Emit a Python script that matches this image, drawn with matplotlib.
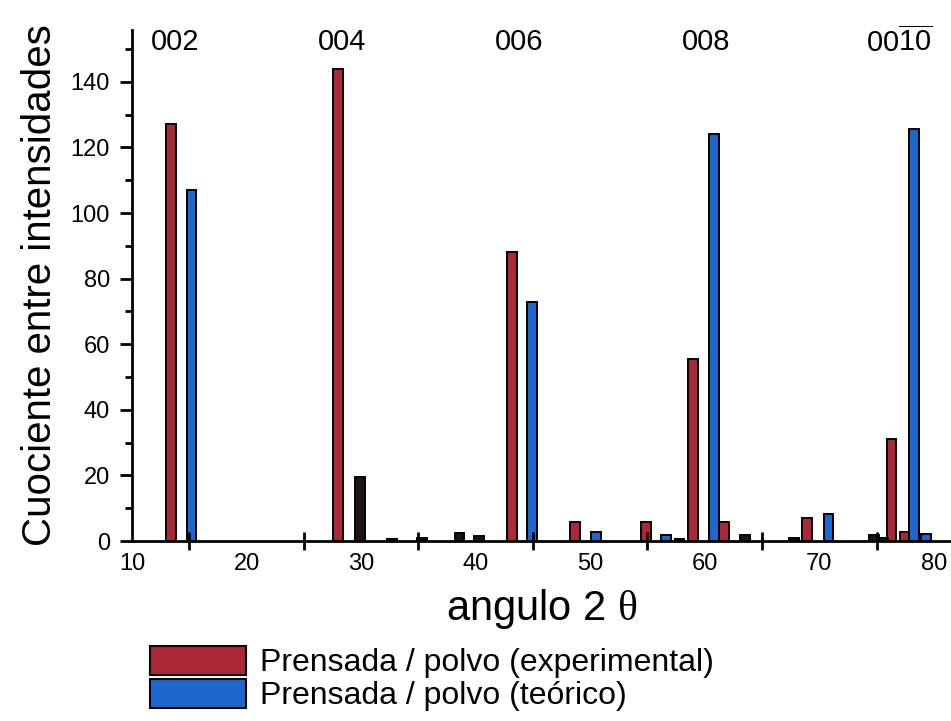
import numpy as np
import matplotlib
matplotlib.use('Agg')
import matplotlib.pyplot as plt
from matplotlib.patches import Patch
from matplotlib.ticker import MultipleLocator

plt.rcParams['font.family'] = ['Liberation Sans', 'DejaVu Sans']
plt.rcParams['mathtext.fontset'] = 'custom'
plt.rcParams['mathtext.rm'] = 'Liberation Serif'
plt.rcParams['mathtext.sf'] = 'Liberation Sans'

# cociente prensada / polvo, experimental
exp_pos = [13.4, 28.0, 43.2, 48.7, 54.9, 59.0, 61.7, 68.9, 76.3, 77.5]
exp_val = [127, 144, 88, 5.8, 5.9, 55.5, 5.8, 7.1, 31, 2.7]

# cociente prensada / polvo, teorico
teo_pos = [15.2, 44.9, 50.5, 56.6, 60.8, 70.8, 78.3, 79.3]
teo_val = [107, 73, 2.8, 1.8, 124, 8.1, 125.5, 2.2]

# otras reflexiones (barras oscuras)
otr_pos = [29.9, 32.7, 35.3, 38.6, 40.3, 57.8, 63.5, 67.8, 74.8, 75.6]
otr_val = [19.5, 0.5, 1.0, 2.3, 1.4, 0.5, 1.7, 0.8, 1.8, 1.0]

# indices de Miller sobre cada pico 00l
hkl_pos = [13.75, 28.3, 43.8, 60.1, 77.0]
hkl_lab = ['002', '004', '006', '008', r'$\mathsf{00\overline{10}}$']

c_exp = '#ab2838'
c_teo = '#1c68cc'
c_otr = '#1a1414'
w = 0.85

fig = plt.figure(figsize=(9.51, 7.21), dpi=100)
ax = fig.add_axes([132/951, 180/721, 819/951, 511/721])

ax.bar(exp_pos, exp_val, width=w, color=c_exp, edgecolor='black', linewidth=1.4)
ax.bar(teo_pos, teo_val, width=w, color=c_teo, edgecolor='black', linewidth=1.4)
ax.bar(otr_pos, otr_val, width=w, color=c_otr, edgecolor='black', linewidth=1.4)

for xp, lab in zip(hkl_pos, hkl_lab):
    ax.text(xp, 152, lab, ha='center', va='center', fontsize=21)

ax.set_xlim(10, 81.5)
ax.set_ylim(0, 155.8)
ax.spines['top'].set_visible(False)
ax.spines['right'].set_visible(False)
ax.spines['left'].set_linewidth(2)
ax.spines['bottom'].set_linewidth(2)

ax.xaxis.set_major_locator(MultipleLocator(10))
ax.xaxis.set_minor_locator(MultipleLocator(5))
ax.yaxis.set_major_locator(MultipleLocator(20))
ax.yaxis.set_minor_locator(MultipleLocator(10))
ax.tick_params(axis='x', which='major', length=0, pad=9, labelsize=17)
ax.tick_params(axis='x', which='minor', direction='inout', length=13, width=2)
ax.tick_params(axis='y', which='major', length=9, width=2, labelsize=17, pad=7)
ax.tick_params(axis='y', which='minor', length=5, width=2)

ax.set_ylabel('Cuociente entre intensidades', fontsize=29, labelpad=8)
ax.set_xlabel(r'angulo 2 $\mathrm{\theta}$', fontsize=30, labelpad=8)

handles = [Patch(facecolor=c_exp, edgecolor='black', linewidth=1.5),
           Patch(facecolor=c_teo, edgecolor='black', linewidth=1.5)]
labels = ['Prensada / polvo (experimental)', 'Prensada / polvo (teórico)']
fig.legend(handles, labels, loc='upper left', bbox_to_anchor=(150/951, 1 - 646/721),
           frameon=False, fontsize=23, handlelength=3.0, handleheight=1.0,
           handletextpad=0.45, labelspacing=0.03, borderpad=0, borderaxespad=0)

fig.savefig('out.png', dpi=100)
